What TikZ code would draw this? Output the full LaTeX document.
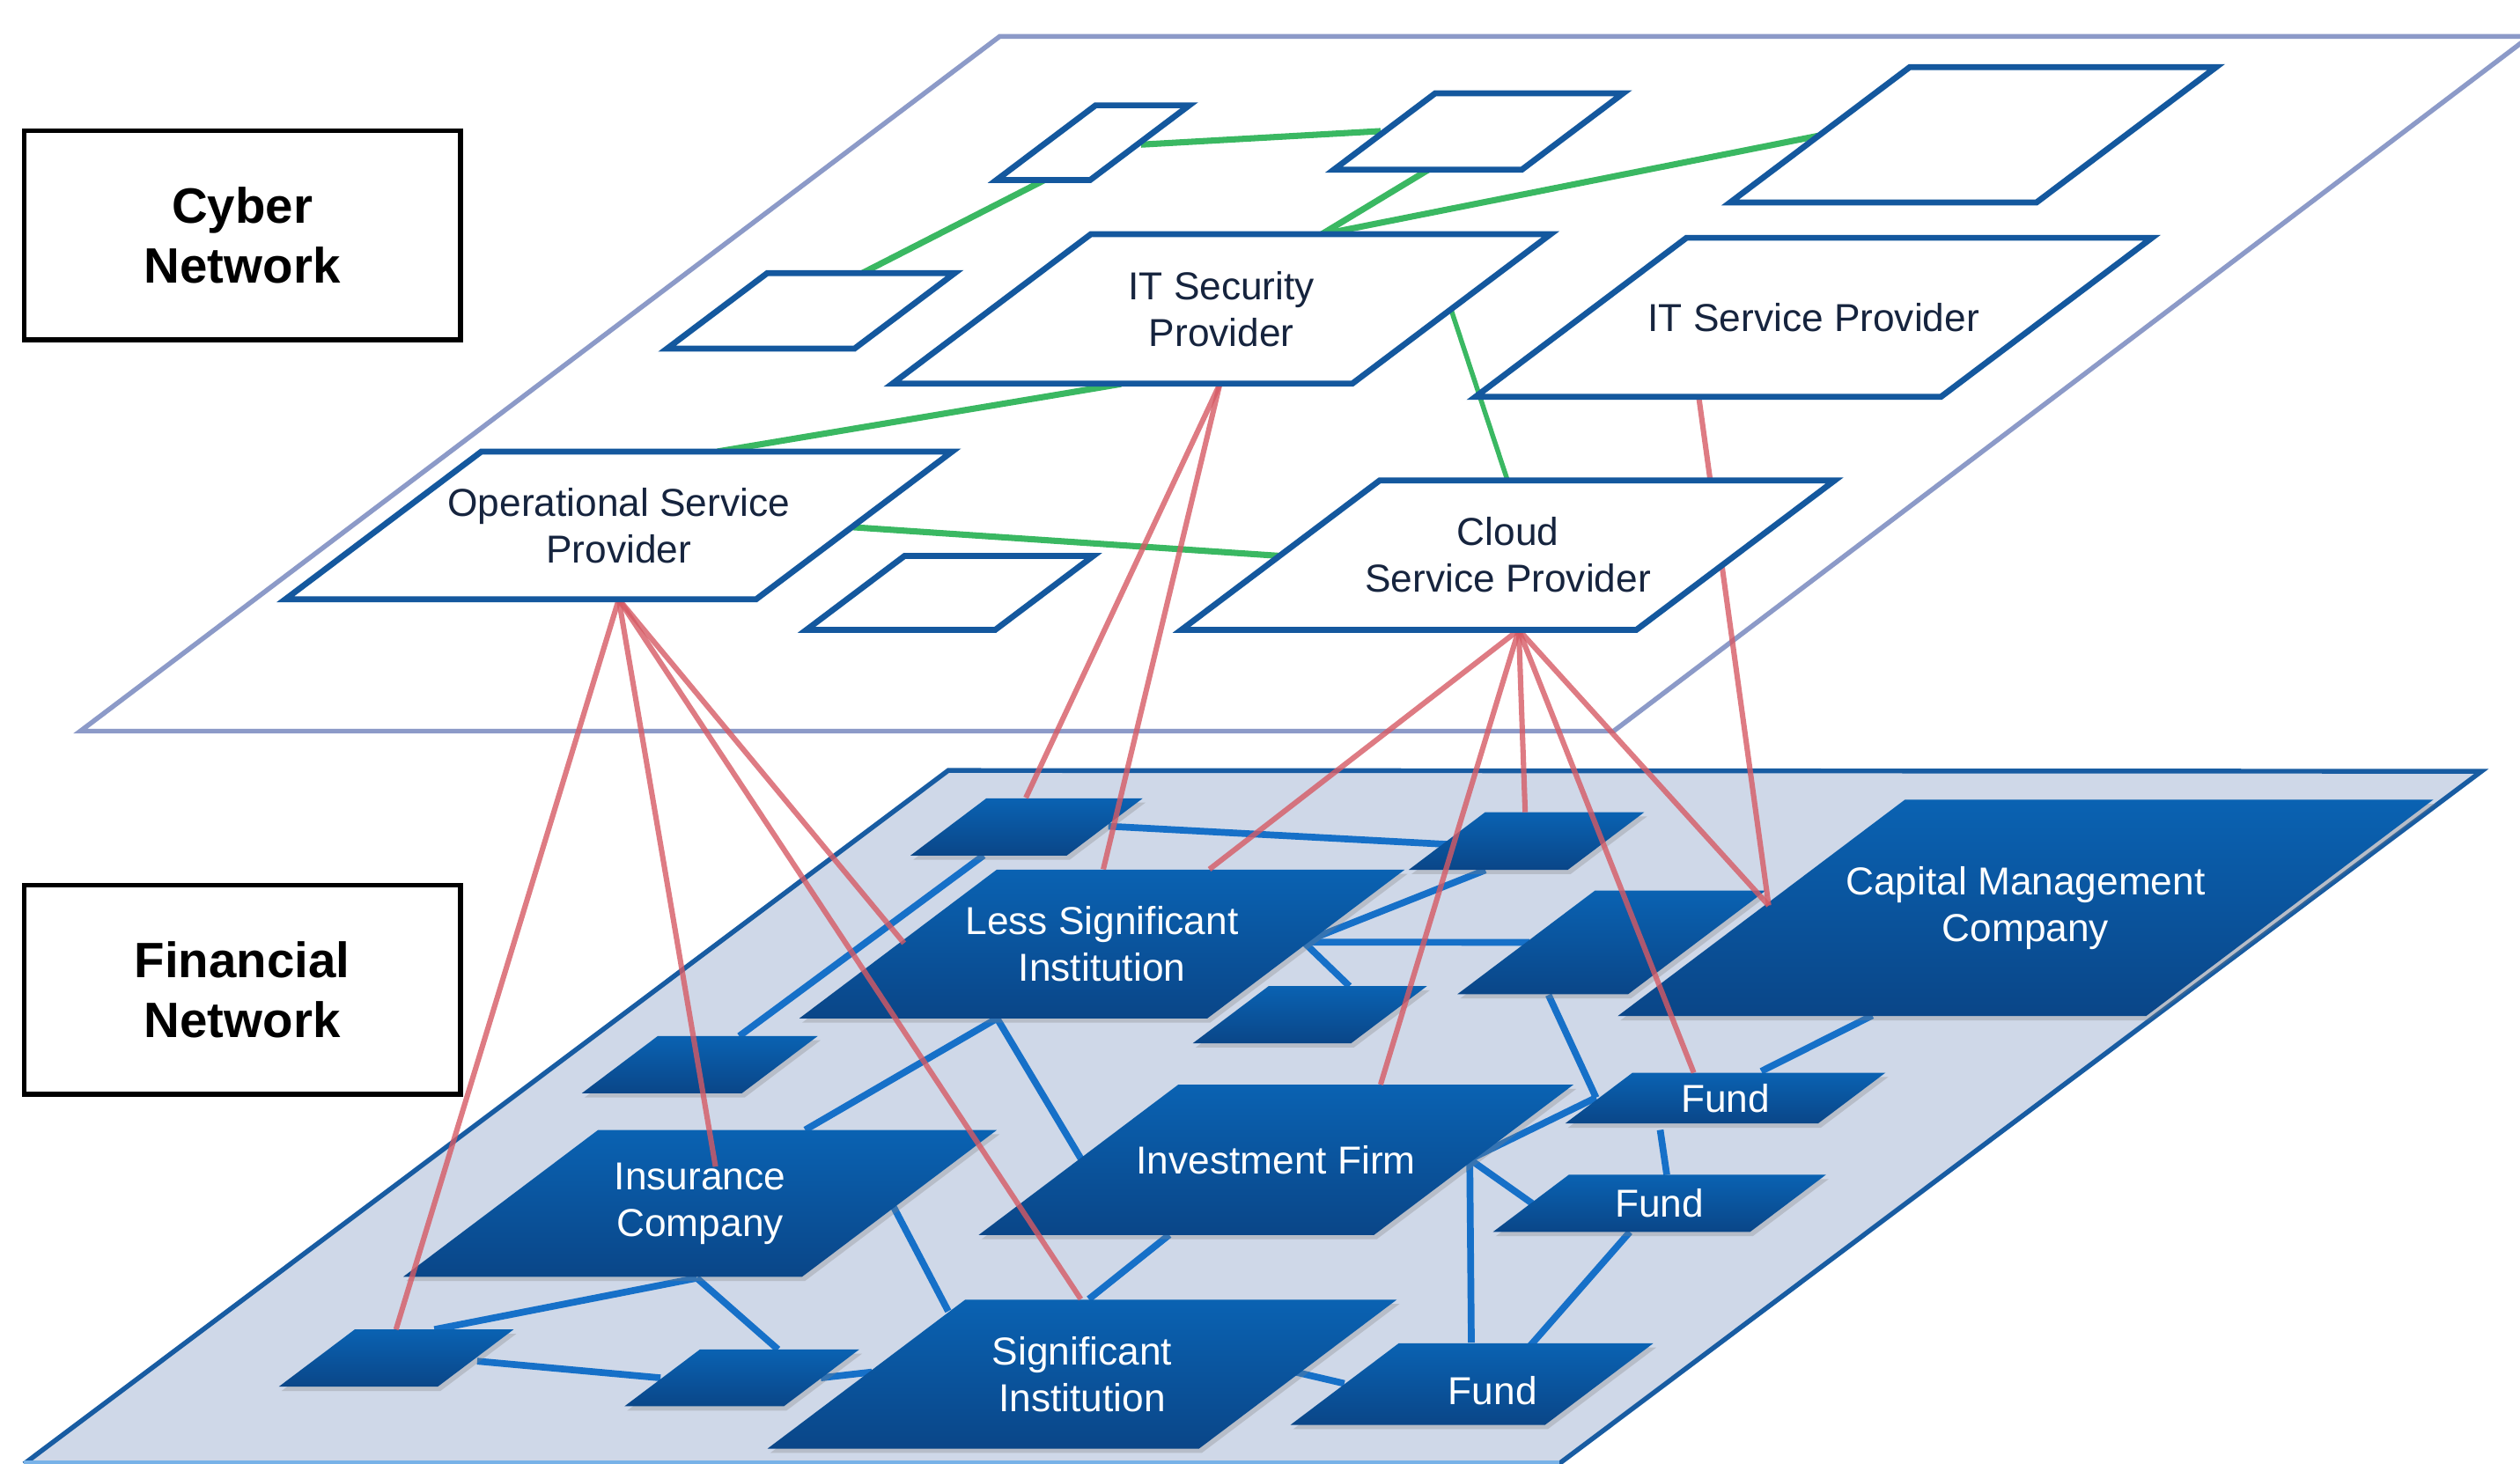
\documentclass[tikz,border=0pt]{standalone}
\usepackage{fontspec}
\setmainfont{Liberation Sans}
\usepackage{tikz}
\usetikzlibrary{calc, shadows}

\definecolor{cyberBlue}{RGB}{20,88,158}
\definecolor{cyberText}{RGB}{22,36,62}
\definecolor{cyberPlane}{RGB}{140,154,200}
\definecolor{finPlane}{RGB}{207,216,232}
\definecolor{finEdge}{RGB}{24,92,162}
\definecolor{finFoot}{RGB}{120,178,232}
\definecolor{finTop}{RGB}{10,98,178}
\definecolor{finBottom}{RGB}{10,70,136}
\definecolor{linkBlue}{RGB}{22,112,200}
\definecolor{linkGreen}{RGB}{58,184,98}
\definecolor{linkRed}{RGB}{214,90,100}

\pgfdeclarelayer{planes}
\pgfdeclarelayer{bluelinks}
\pgfdeclarelayer{crosslinks}
\pgfdeclarelayer{upper}
\pgfsetlayers{planes,bluelinks,main,crosslinks,upper}

% slanted box: [text shift], shape style, text style, name, centre x, centre y, full width, height, text
\newcommand{\flatnode}[9][]{%
  \path[#2] ({#5-#7/2},{#6+#8/2}) -- ({#5+#7/2-1.327*#8},{#6+#8/2})
    -- ({#5+#7/2},{#6-#8/2}) -- ({#5-#7/2+1.327*#8},{#6-#8/2}) -- cycle;
  \node[#3, #1] (#4) at (#5,#6) {#9};
}

\begin{document}
\begin{tikzpicture}[x=0.02cm, y=-0.02cm,
  cshape/.style={draw=cyberBlue, line width=2.1pt, fill=white},
  ctext/.style={text=cyberText, align=center, font=\fontsize{13.8}{16.5}\selectfont},
  fshape/.style={top color=finTop, bottom color=finBottom,
    drop shadow={shadow xshift=1pt, shadow yshift=-1.5pt, opacity=0.3}},
  ftext/.style={text=white, align=center, font=\fontsize{13.8}{16.5}\selectfont},
  layerbox/.style={draw=black, line width=1.7pt, minimum width=271.5*0.02cm,
    minimum height=130*0.02cm, align=center, font=\fontsize{17.6}{21.3}\selectfont\bfseries},
  greenline/.style={draw=linkGreen, line width=2.2pt},
  blueline/.style={draw=linkBlue, line width=2.4pt},
  redline/.style={draw=linkRed, line width=1.9pt, draw opacity=0.8}
]
  \useasboundingbox (0,0) rectangle (1568,911);

  % Planes
  \begin{pgfonlayer}{planes}
    \draw[draw=cyberPlane, line width=1.7pt, fill=white]
      (622,22.7) -- (1574,22.7) -- (1004,455) -- (50,455) -- cycle;
    \fill[finPlane] (590,479.5) -- (1544,480) -- (970,911) -- (15,911) -- cycle;
    \draw[finEdge, line width=1.7pt] (15,911) -- (590,479.5) -- (1544,480) -- (970,911);
    \draw[finFoot, line width=1.2pt] (15,910) -- (970,910);
  \end{pgfonlayer}

  % Layer labels
  \node[layerbox] (cyberbox) at (150.7,146.5) {Cyber\\Network};
  \node[layerbox] (finbox) at (150.7,616) {Financial\\Network};

  % Cyber Network
  \begin{pgfonlayer}{upper}
    \flatnode{cshape}{ctext}{csmallA}{680}{88.8}{120}{46.5}{}
    \flatnode{cshape}{ctext}{csmallB}{920}{81.8}{180}{47.5}{}
    \flatnode{cshape}{ctext}{csmallC}{1227.7}{83.9}{302.5}{84.3}{}
    \flatnode{cshape}{ctext}{csmallD}{504.5}{193.5}{179}{47}{}
    \flatnode{cshape}{ctext}{itsec}{760}{192.3}{409.5}{93}{IT Security\\Provider}
    \flatnode{cshape}{ctext}{itserv}{1128.5}{197.5}{421}{99}{IT Service Provider}
    \flatnode{cshape}{ctext}{opserv}{385}{327}{415}{92}{Operational Service\\Provider}
    \flatnode{cshape}{ctext}{csmallH}{591}{369}{178.5}{46}{}
    \flatnode{cshape}{ctext}{cloud}{938.3}{345.5}{406.5}{93}{Cloud\\Service Provider}
  \end{pgfonlayer}

  % Financial Network
  \flatnode{fshape}{ftext}{fsmallJ}{638.8}{514.6}{144.5}{35.6}{}
  \flatnode{fshape}{ftext}{fsmallK}{949.8}{523.4}{146.5}{35.8}{}
  \flatnode{fshape}{ftext}{lsi}{685.7}{587.5}{376.6}{92.5}{Less Significant\\Institution}
  \flatnode{fshape}{ftext}{fsmallR}{815}{631.5}{145.7}{35.6}{}
  \flatnode{fshape}{ftext}{fsmallS}{1002.7}{586.5}{191.8}{64.5}{}
  \flatnode{fshape}{ftext}{capital}{1260.3}{565}{507.5}{134.7}{Capital Management\\Company}
  \flatnode{fshape}{ftext}{fsmallL}{435.4}{662.6}{146.8}{35.6}{}
  \flatnode{fshape}{ftext}{insur}{435.6}{748.9}{369.3}{91.3}{Insurance\\Company}
  \flatnode{fshape}{ftext}{invest}{794}{721.8}{370}{93.5}{Investment Firm}
  \flatnode{fshape}{ftext}{fundA}{1073.5}{683.4}{199.3}{31.6}{Fund}
  \flatnode{fshape}{ftext}{fundB}{1032.5}{748.9}{207.2}{35.6}{Fund}
  \flatnode{fshape}{ftext}{fsmallO}{246.5}{845.2}{146.1}{35.6}{}
  \flatnode{fshape}{ftext}{fsmallP}{461.6}{857.5}{146.1}{35.4}{}
  \flatnode{fshape}{ftext}{signif}{673.3}{855.2}{391.5}{92.7}{Significant\\Institution}
  \flatnode[xshift=0.26cm, yshift=-0.08cm]{fshape}{ftext}{fundC}{915.8}{861.4}{225.8}{50.8}{Fund}

  % Financial links
  \begin{pgfonlayer}{bluelinks}
    \draw[blueline] ($(fsmallJ)+(-26.8,17.8)$) -- ($(fsmallL)+(24.6,-17.8)$);
    \draw[blueline] ($(fsmallJ)+(50.8,-0.4)$) -- ($(fsmallK)+(-48.8,2.1)$);
    \draw[blueline] ($(lsi)+(125.5,-1.2)$) -- ($(fsmallK)+(-25.6,18.1)$);
    \draw[blueline] ($(lsi)+(125.5,-1.2)$) -- ($(fsmallS)+(-51.1,0)$);
    \draw[blueline] ($(lsi)+(125.5,-1.2)$) -- ($(fsmallR)+(24.6,-17.8)$);
    \draw[blueline] ($(lsi)+(-65.3,46.3)$) -- ($(insur)+(65.4,-45.7)$);
    \draw[blueline] ($(lsi)+(-65.3,46.3)$) -- ($(invest)+(-121.5,-0.8)$);
    \draw[blueline] ($(insur)+(120.2,1.8)$) -- ($(signif)+(-83.3,-39.2)$);
    \draw[blueline] ($(insur)+(-2,46.5)$) -- ($(fsmallO)+(23.8,-17.8)$);
    \draw[blueline] ($(insur)+(-2,46.5)$) -- ($(fsmallP)+(22.5,-17.7)$);
    \draw[blueline] ($(fsmallO)+(50.4,1.9)$) -- ($(fsmallP)+(-50.6,0)$);
    \draw[blueline] ($(fsmallP)+(49.1,0)$) -- ($(signif)+(-130.8,-1.3)$);
    \draw[blueline] ($(invest)+(-66.5,46.7)$) -- ($(signif)+(4.2,-46.7)$);
    \draw[blueline] ($(signif)+(133.2,-1.2)$) -- ($(fundC)+(-92.3,-4.4)$);
    \draw[blueline] ($(fsmallS)+(-39.2,32.7)$) -- ($(fundA)+(-80.4,-0.3)$);
    \draw[blueline] ($(capital)+(-95.3,67)$) -- ($(fundA)+(22.4,-16.7)$);
    \draw[blueline] ($(fundA)+(-40.5,19.8)$) -- ($(fundB)+(4.6,-17.8)$);
    \draw[blueline] ($(invest)+(120.5,-0.3)$) -- ($(fundA)+(-80.4,-0.3)$);
    \draw[blueline] ($(invest)+(120.5,-0.3)$) -- ($(fundB)+(-79.2,0)$);
    \draw[blueline] ($(invest)+(120.5,-0.3)$) -- ($(fundC)+(-13.3,-29.8)$);
    \draw[blueline] ($(fundB)+(-18.4,17.8)$) -- ($(fundC)+(23.4,-28)$);
  \end{pgfonlayer}

  \begin{pgfonlayer}{crosslinks}
    % Cyber links
    \draw[greenline] ($(csmallA)+(-30,23.2)$) -- ($(csmallD)+(32,-23.5)$);
    \draw[greenline] ($(csmallA)+(30,1.2)$) -- ($(csmallB)+(-61,-0.2)$);
    \draw[greenline] ($(csmallB)+(-31,23.7)$) -- ($(itsec)+(62,-46.3)$);
    \draw[greenline] ($(itsec)+(62,-46.3)$) -- ($(csmallC)+(-96.2,0.6)$);
    \draw[greenline] ($(itsec)+(-62.5,46.7)$) -- ($(opserv)+(61.5,-46)$);
    \draw[greenline, line width=1.7pt] ($(itsec)+(143,0.7)$) -- ($(cloud)+(-0.3,-46.5)$);
    \draw[greenline] ($(opserv)+(144,1)$) -- ($(cloud)+(-141.3,0.5)$);

    % Dependencies between the networks
    \draw[redline] ($(opserv)+(0,46)$) -- ($(fsmallO)+(-0.1,-17.8)$);
    \draw[redline] ($(opserv)+(0,46)$) -- ($(insur)+(9.6,-22.9)$);
    \draw[redline] ($(opserv)+(0,46)$) -- ($(lsi)+(-123.2,-0.5)$);
    \draw[redline] ($(opserv)+(0,46)$) -- ($(signif)+(-0.8,-46.7)$);
    \draw[redline] ($(itsec)+(-1,46.7)$) -- ($(fsmallJ)+(-0.5,-18.1)$);
    \draw[redline] ($(itsec)+(-1,46.7)$) -- ($(lsi)+(0.8,-46.5)$);
    \draw[redline] ($(itserv)+(-71.5,49.5)$) -- ($(capital)+(-159.8,-1.5)$);
    \draw[redline] ($(cloud)+(6.7,46.5)$) -- ($(lsi)+(66.8,-46.5)$);
    \draw[redline] ($(cloud)+(6.7,46.5)$) -- ($(invest)+(65,-46.8)$);
    \draw[redline] ($(cloud)+(6.7,46.5)$) -- ($(fsmallK)+(-0.8,-17.9)$);
    \draw[redline] ($(cloud)+(6.7,46.5)$) -- ($(fundA)+(-19.6,-15.8)$);
    \draw[redline] ($(cloud)+(6.7,46.5)$) -- ($(capital)+(-159.8,-1.5)$);
  \end{pgfonlayer}

\end{tikzpicture}
\end{document}
